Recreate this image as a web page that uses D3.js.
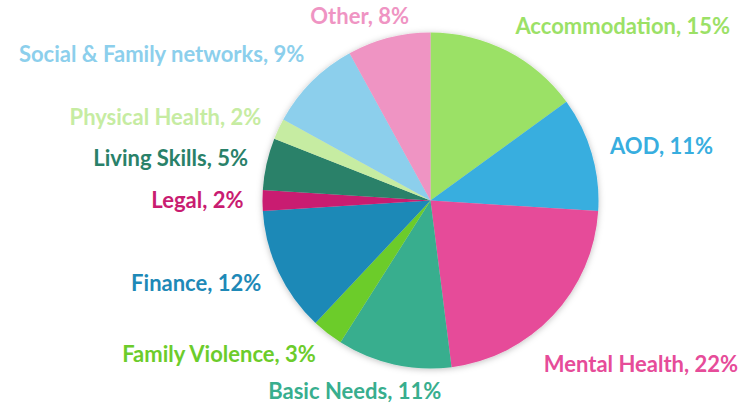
<!DOCTYPE html>
<html>
<head>
<meta charset="utf-8">
<script src="https://cdn.jsdelivr.net/npm/d3@7"></script>
<style>
    html, body { margin: 0; padding: 0; background: #ffffff; }
    #chart { width: 752px; height: 403px; }
    text { font-family: Lato, "Open Sans", sans-serif; font-weight: 700; }
</style>
</head>
<body>
<div id="chart"></div>
<script>
// Données (sens horaire depuis le haut)
const categories = ['Accommodation', 'AOD', 'Mental Health', 'Basic Needs', 'Family Violence',
    'Finance', 'Legal', 'Living Skills', 'Physical Health', 'Social & Family networks', 'Other'];
const shares = [15, 11, 22, 11, 3, 12, 2, 5, 2, 9, 8];
const colors = ['#9be166', '#38aedf', '#e64c99', '#38ae8e', '#6ccc2b', '#1e89b7',
    '#c91c71', '#298169', '#c6eca2', '#8ccfec', '#ef94c3'];

// petits décalages d'étiquettes (placement "best fit" d'Excel)
const labelNudge = {
    'Mental Health': [-23, 30],
    'Basic Needs': [-35, 0],
    'Other': [25, 5],
    'Social & Family networks': [6, -8]
};

const width = 752;
const height = 403;
const cx = 430.5;
const cy = 200.5;
const radius = 168;
const labelRadius = 187;

const data = categories.map((c, i) => ({ label: c, value: shares[i], color: colors[i] }));

const svg = d3.select('#chart')
    .append('svg')
    .attr('width', width)
    .attr('height', height);

// ombre douce autour du camembert
const defs = svg.append('defs');
const filter = defs.append('filter')
    .attr('id', 'shadow')
    .attr('x', '-20%').attr('y', '-20%')
    .attr('width', '140%').attr('height', '140%');
filter.append('feDropShadow')
    .attr('dx', 0).attr('dy', 1)
    .attr('stdDeviation', 3)
    .attr('flood-color', '#000')
    .attr('flood-opacity', 0.25);

const g = svg.append('g')
    .attr('transform', `translate(${cx}, ${cy})`);

const pie = d3.pie()
    .value(d => d.value)
    .sort(null);

const arc = d3.arc()
    .innerRadius(0)
    .outerRadius(radius);

const arcs = pie(data);

g.append('g')
    .attr('filter', 'url(#shadow)')
    .selectAll('path')
    .data(arcs)
    .enter()
    .append('path')
    .attr('d', arc)
    .attr('fill', d => d.data.color);

// étiquettes
g.selectAll('.lbl')
    .data(arcs)
    .enter()
    .append('text')
    .attr('class', 'lbl')
    .each(function(d) {
        const a = (d.startAngle + d.endAngle) / 2;
        const s = Math.sin(a);
        const c = Math.cos(a);
        const nudge = labelNudge[d.data.label] || [0, 0];
        const x = s * labelRadius + nudge[0];
        const y = -c * labelRadius - c * 8 + nudge[1];
        let anchor = 'middle';
        if (d.data.label === 'Basic Needs') anchor = 'middle';
        else if (s > 0.05) anchor = 'start';
        else if (s < -0.05) anchor = 'end';
        d3.select(this)
            .attr('x', x)
            .attr('y', y)
            .attr('dy', '0.35em')
            .attr('text-anchor', anchor);
    })
    .style('font-size', '22px')
    .style('fill', d => d.data.color)
    .text(d => `${d.data.label}, ${d.data.value}%`);
</script>
</body>
</html>
